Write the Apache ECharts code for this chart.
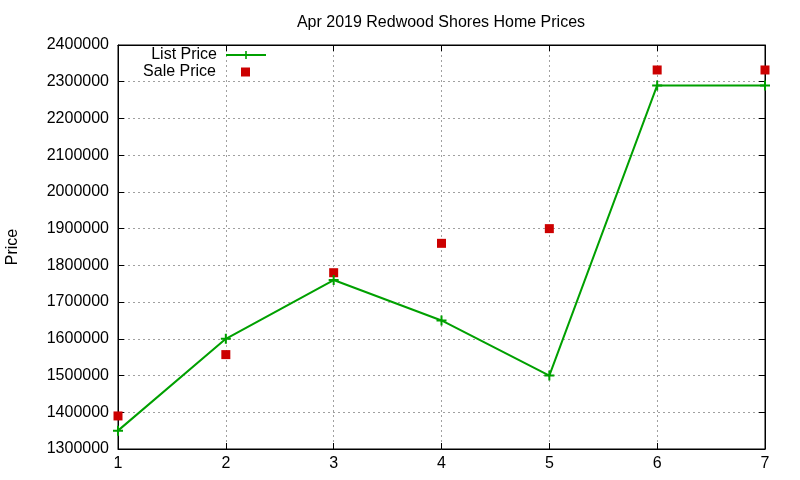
<!DOCTYPE html>
<html>
<head>
<meta charset="utf-8">
<script src="https://cdn.jsdelivr.net/npm/echarts@6/dist/echarts.min.js"></script>
<style>
  html, body { margin: 0; padding: 0; background: #fff; }
  #chart { width: 800px; height: 480px; }
</style>
</head>
<body>
<div id="chart"></div>
<script>
// 数据
var months = [1, 2, 3, 4, 5, 6, 7];
var listPrice = [1350000, 1600000, 1760000, 1650000, 1500000, 2290000, 2290000];
var salePrice = [1390000, 1557000, 1780000, 1860000, 1900000, 2332000, 2332000];
var titleText = 'Apr 2019 Redwood Shores Home Prices';

var font = 'Liberation Sans, Arial, sans-serif';
var green = '#00a000';
var red = '#cc0000';
var plus = 'path://M4,0H6V4H10V6H6V10H4V6H0V4H4Z';

function pairs(ys) {
  var out = [];
  for (var i = 0; i < months.length; i++) {
    out.push([months[i], ys[i]]);
  }
  return out;
}

var gridLine = {
  show: true,
  lineStyle: { color: '#a0a0a0', type: [2, 3], width: 1 }
};

var myChart = echarts.init(document.getElementById('chart'));
var option = {
  backgroundColor: '#fff',
  animation: false,
  title: {
    text: titleText,
    left: 436,
    top: 10,
    textAlign: 'center',
    textStyle: { fontFamily: font, fontSize: 16, fontWeight: 'normal', color: '#000' }
  },
  legend: [{
    data: ['List Price'],
    orient: 'vertical',
    align: 'right',
    right: 533,
    top: 47,
    padding: 0,
    itemWidth: 40,
    itemHeight: 10,
    textStyle: { fontFamily: font, fontSize: 16, color: '#000', padding: [0, 4, 0, 0] }
  }, {
    data: ['Sale Price'],
    orient: 'vertical',
    align: 'right',
    right: 550,
    top: 64,
    padding: 0,
    itemWidth: 9,
    itemHeight: 9,
    textStyle: { fontFamily: font, fontSize: 16, color: '#000', padding: [0, 20, 0, 0] }
  }],
  grid: {
    left: 118,
    right: 35,
    top: 45,
    bottom: 31,
    containLabel: false,
    outerBoundsMode: 'none',
    show: true,
    borderColor: '#000',
    borderWidth: 1
  },
  xAxis: [{
    type: 'value',
    min: 1,
    max: 7,
    interval: 1,
    axisLine: { lineStyle: { color: '#000' } },
    axisTick: { inside: true, length: 6, lineStyle: { color: '#000' } },
    axisLabel: { color: '#000', fontFamily: font, fontSize: 16, margin: 7 },
    splitLine: gridLine
  }, {
    type: 'value',
    position: 'top',
    min: 1,
    max: 7,
    interval: 1,
    axisLine: { lineStyle: { color: '#000' } },
    axisTick: { inside: true, length: 6, lineStyle: { color: '#000' } },
    axisLabel: { show: false },
    splitLine: { show: false }
  }],
  yAxis: [{
    type: 'value',
    min: 1300000,
    max: 2400000,
    interval: 100000,
    name: 'Price',
    nameLocation: 'middle',
    nameGap: 97,
    nameTextStyle: { fontFamily: font, fontSize: 16, color: '#000' },
    axisLine: { show: true, lineStyle: { color: '#000' } },
    axisTick: { show: true, inside: true, length: 6, lineStyle: { color: '#000' } },
    axisLabel: {
      color: '#000', fontFamily: font, fontSize: 16, margin: 9,
      formatter: function (value) { return String(value); }
    },
    splitLine: gridLine
  }, {
    type: 'value',
    position: 'right',
    min: 1300000,
    max: 2400000,
    interval: 100000,
    axisLine: { show: true, lineStyle: { color: '#000' } },
    axisTick: { show: true, inside: true, length: 6, lineStyle: { color: '#000' } },
    axisLabel: { show: false },
    splitLine: { show: false }
  }],
  series: [{
    name: 'List Price',
    type: 'line',
    data: pairs(listPrice),
    symbol: plus,
    symbolSize: 10,
    showAllSymbol: true,
    lineStyle: { color: green, width: 2 },
    itemStyle: { color: green }
  }, {
    name: 'Sale Price',
    type: 'scatter',
    data: pairs(salePrice),
    symbol: 'rect',
    symbolSize: 9,
    itemStyle: { color: red, opacity: 1 }
  }]
};
myChart.setOption(option, true);
</script>
</body>
</html>
